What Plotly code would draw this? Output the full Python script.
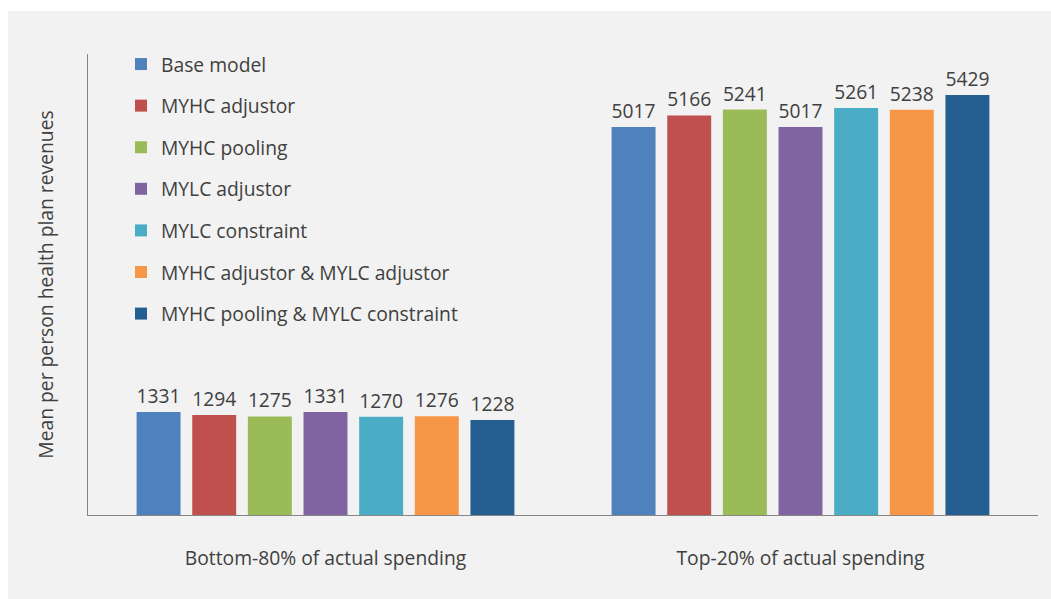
import plotly.graph_objects as go

# Spending groups on the category axis
groups = ["Bottom-80% of actual spending", "Top-20% of actual spending"]

# Model variants (one bar series each)
series_names = [
    "Base model",
    "MYHC adjustor",
    "MYHC pooling",
    "MYLC adjustor",
    "MYLC constraint",
    "MYHC adjustor & MYLC adjustor",
    "MYHC pooling & MYLC constraint",
]

# Mean per person revenues: [bottom-80%, top-20%]
base_model = [1331, 5017]
myhc_adjustor = [1294, 5166]
myhc_pooling = [1275, 5241]
mylc_adjustor = [1331, 5017]
mylc_constraint = [1270, 5261]
myhc_adj_mylc_adj = [1276, 5238]
myhc_pool_mylc_con = [1228, 5429]

series_values = [
    base_model,
    myhc_adjustor,
    myhc_pooling,
    mylc_adjustor,
    mylc_constraint,
    myhc_adj_mylc_adj,
    myhc_pool_mylc_con,
]

colors = ["#4F81BD", "#C0504D", "#9BBB59", "#8064A2", "#4BACC6", "#F79646", "#255E91"]

FONT = "Open Sans"
FS = 19.3
TEXT_COLOR = "#404040"

fig = go.Figure()
for i, (name, vals, col) in enumerate(zip(series_names, series_values, colors)):
    fig.add_trace(
        go.Bar(
            name=name,
            x=groups,
            y=vals,
            marker=dict(color=col, line=dict(width=0)),
            text=[str(v) for v in vals],
            textposition="outside",
            cliponaxis=False,
            textfont=dict(family=FONT, size=FS, color=TEXT_COLOR),
            legendgroup=f"g{i}",
        )
    )

# plot area: x 88..1038, y 54..515
W, H = 1051, 599
ml, mr, mt, mb = 88, 13, 54, 84
pw = W - ml - mr
ph = H - mt - mb

def px_x(p):
    return (p - ml) / pw

def px_y(p):
    return (H - mb - p) / ph

fig.update_layout(
    width=W,
    height=H,
    margin=dict(l=ml, r=mr, t=mt, b=mb),
    paper_bgcolor="white",
    plot_bgcolor="#F2F2F2",
    barmode="group",
    bargap=0.18,
    bargroupgap=0.21,
    font=dict(family=FONT, size=FS, color=TEXT_COLOR),
    showlegend=True,
    legend=dict(
        x=px_x(121),
        xanchor="left",
        y=px_y(45),
        yanchor="top",
        traceorder="grouped",
        tracegroupgap=13.5,
        bgcolor="rgba(0,0,0,0)",
        font=dict(family=FONT, size=FS, color=TEXT_COLOR),
        itemclick=False,
    ),
    xaxis=dict(
        showline=True,
        linecolor="#868686",
        linewidth=1,
        ticks="",
        showgrid=False,
        ticklabelstandoff=26,
        tickfont=dict(family=FONT, size=FS, color=TEXT_COLOR),
    ),
    yaxis=dict(
        range=[0, 5960],
        showline=True,
        linecolor="#868686",
        linewidth=1,
        showgrid=False,
        zeroline=False,
        showticklabels=False,
        ticks="",
        title=dict(
            text="Mean per person health plan revenues",
            font=dict(family=FONT, size=FS, color=TEXT_COLOR),
            standoff=28,
        ),
    ),
    shapes=[
        dict(
            type="rect",
            xref="paper",
            yref="paper",
            x0=px_x(8),
            x1=px_x(1060),
            y0=px_y(610),
            y1=px_y(11),
            fillcolor="#F2F2F2",
            line=dict(width=0),
            layer="below",
        )
    ],
)

fig.write_html("out.html")
